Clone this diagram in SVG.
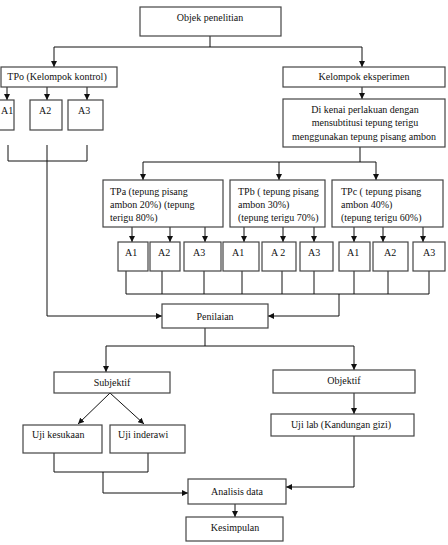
<svg xmlns="http://www.w3.org/2000/svg" width="448" height="545" viewBox="0 0 448 545">
<defs>
<marker id="ah" viewBox="0 0 6 6" refX="6" refY="3" markerWidth="6" markerHeight="6" markerUnits="userSpaceOnUse" orient="auto">
<path d="M0,0 L6,3 L0,6 z" fill="#111"/>
</marker>
</defs>
<style>
rect{fill:#fff;stroke:#444;stroke-width:1.2}
text{font-family:"Liberation Serif","Times New Roman",serif;font-size:10px;fill:#111}
.c{text-anchor:middle}
.l{fill:none;stroke:#111;stroke-width:1}
.a{fill:none;stroke:#111;stroke-width:1;marker-end:url(#ah)}
</style>
<rect x="0" y="0" width="448" height="545" style="fill:#fff;stroke:none"/>
<g id="connectors">
<path class="l" d="M210,36 V47 M54,47 H362"/>
<path class="a" d="M54,47 V67"/>
<path class="a" d="M362,47 V67"/>
<path class="a" d="M7,87 V100"/>
<path class="a" d="M47,87 V100"/>
<path class="a" d="M87,87 V100"/>
<path class="a" d="M362,87 V99"/>
<path class="l" d="M8,145 V161 H87 V145"/>
<path class="a" d="M47,145 V316 H162"/>
<path class="l" d="M360,147 V162 M143,162 H376"/>
<path class="a" d="M143,162 V180"/>
<path class="a" d="M279,162 V180"/>
<path class="a" d="M376,162 V180"/>
<path class="a" d="M132,227 V242"/>
<path class="a" d="M170,227 V242"/>
<path class="a" d="M205,227 V242"/>
<path class="a" d="M244,227 V242"/>
<path class="a" d="M283,227 V242"/>
<path class="a" d="M314,227 V242"/>
<path class="a" d="M354,227 V242"/>
<path class="a" d="M383,227 V242"/>
<path class="a" d="M423,227 V242"/>
<path class="l" d="M126,271 V294 M162,271 V294 M204,271 V294 M242,271 V294 M282,271 V294 M314,271 V294 M354,271 V294 M388,271 V294 M429,271 V294 M126,294 H429"/>
<path class="a" d="M339,294 V316 H268"/>
<path class="l" d="M205,328 V346 M106,346 H354"/>
<path class="a" d="M106,346 V372"/>
<path class="a" d="M354,346 V370"/>
<path class="a" d="M110,393 L78,424"/>
<path class="a" d="M110,393 L144,424"/>
<path class="a" d="M354,393 V414"/>
<path class="l" d="M54,453 V472 H148 V453"/>
<path class="a" d="M103,472 V493 H188"/>
<path class="a" d="M354,436 V487 H286"/>
<path class="a" d="M235,504 V517"/>
</g>
<g id="objek"><rect x="140" y="7" width="141" height="29"/><text class="c" x="210" y="21">Objek penelitian</text></g>
<g id="tpo"><rect x="1" y="67" width="116" height="20"/><text class="c" x="57" y="80">TPo (Kelompok kontrol)</text></g>
<g id="kelompok"><rect x="283" y="67" width="162" height="20"/><text class="c" x="364" y="80">Kelompok eksperimen</text></g>
<g id="tpo-a1"><rect x="-2" y="100" width="16" height="30"/><text x="1" y="114">A1</text></g>
<g id="tpo-a2"><rect x="30" y="100" width="32" height="30"/><text x="39" y="114">A2</text></g>
<g id="tpo-a3"><rect x="68" y="100" width="35" height="30"/><text x="78" y="114">A3</text></g>
<g id="dikenai"><rect x="283" y="99" width="162" height="48"/>
<text class="c" x="365" y="113">Di kenai perlakuan dengan</text>
<text class="c" x="365" y="126">mensubtitusi tepung terigu</text>
<text class="c" x="364" y="140">menggunakan tepung pisang ambon</text></g>
<g id="tpa"><rect x="103" y="180" width="120" height="47"/>
<text x="110" y="195">TPa (tepung pisang</text><text x="110" y="208">ambon 20%) (tepung</text><text x="110" y="221">terigu 80%)</text></g>
<g id="tpb"><rect x="230" y="180" width="95" height="47"/>
<text x="238" y="195">TPb ( tepung pisang</text><text x="238" y="208">ambon 30%)</text><text x="238" y="221">(tepung terigu 70%)</text></g>
<g id="tpc"><rect x="332" y="180" width="111" height="47"/>
<text x="341" y="195">TPc ( tepung pisang</text><text x="341" y="208">ambon 40%)</text><text x="341" y="221">(tepung terigu 60%)</text></g>
<g id="tpa-a1"><rect x="118" y="242" width="30" height="29"/><text x="125" y="256">A1</text></g>
<g id="tpa-a2"><rect x="150" y="242" width="30" height="29"/><text x="158" y="256">A2</text></g>
<g id="tpa-a3"><rect x="184" y="242" width="37" height="29"/><text x="193" y="256">A3</text></g>
<g id="tpb-a1"><rect x="223" y="242" width="36" height="29"/><text x="232" y="256">A1</text></g>
<g id="tpb-a2"><rect x="262" y="242" width="34" height="29"/><text x="271" y="256">A 2</text></g>
<g id="tpb-a3"><rect x="300" y="242" width="33" height="29"/><text x="308" y="256">A3</text></g>
<g id="tpc-a1"><rect x="339" y="242" width="31" height="29"/><text x="347" y="256">A1</text></g>
<g id="tpc-a2"><rect x="373" y="242" width="35" height="29"/><text x="384" y="256">A2</text></g>
<g id="tpc-a3"><rect x="413" y="242" width="32" height="29"/><text x="423" y="256">A3</text></g>
<g id="penilaian"><rect x="162" y="304" width="106" height="24"/><text class="c" x="215" y="320">Penilaian</text></g>
<g id="subjektif"><rect x="54" y="372" width="116" height="21"/><text class="c" x="112" y="386">Subjektif</text></g>
<g id="objektif"><rect x="273" y="370" width="142" height="23"/><text class="c" x="344" y="384">Objektif</text></g>
<g id="kesukaan"><rect x="23" y="425" width="79" height="28"/><text x="32" y="438">Uji kesukaan</text></g>
<g id="inderawi"><rect x="110" y="425" width="75" height="28"/><text x="118" y="438">Uji inderawi</text></g>
<g id="ujilab"><rect x="271" y="414" width="143" height="22"/><text class="c" x="341" y="428">Uji lab (Kandungan gizi)</text></g>
<g id="analisis"><rect x="188" y="479" width="98" height="25"/><text class="c" x="237" y="495">Analisis data</text></g>
<g id="kesimpulan"><rect x="186" y="517" width="97" height="24"/><text class="c" x="235" y="531">Kesimpulan</text></g>
</svg>
